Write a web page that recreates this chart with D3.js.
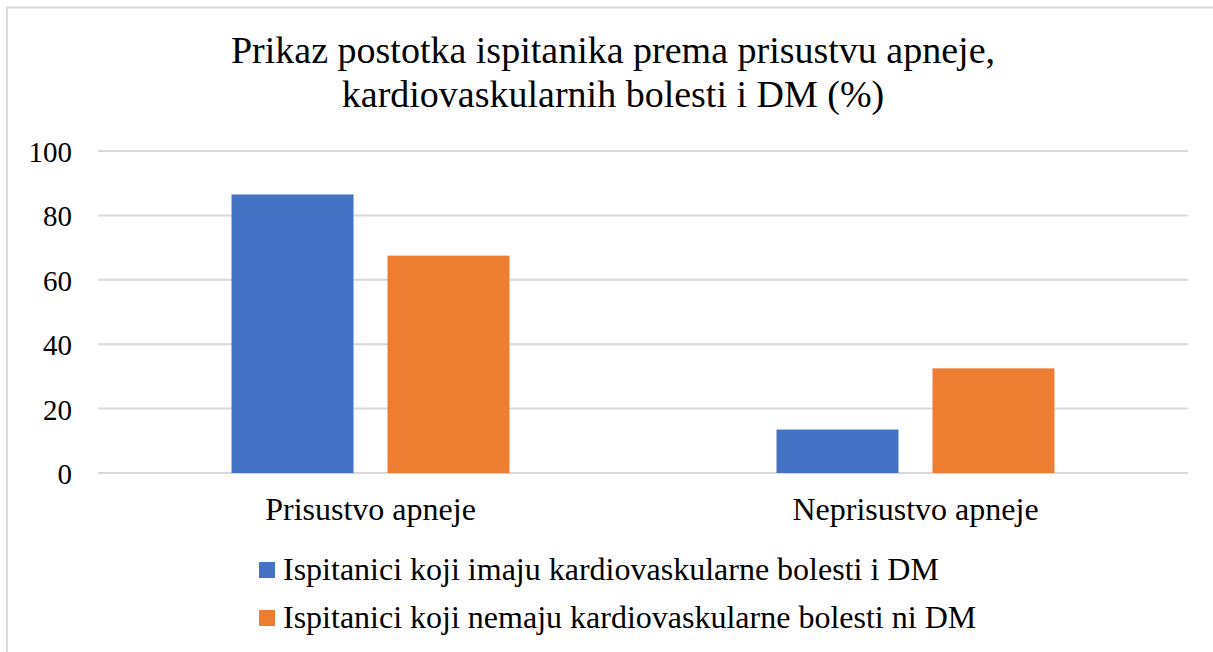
<!DOCTYPE html>
<html>
<head>
<meta charset="utf-8">
<script src="https://cdn.jsdelivr.net/npm/d3@7"></script>
<style>
  body { margin: 0; background: #fff; }
  svg { display: block; }
</style>
</head>
<body>
<div id="chart-area"></div>
<script>
// Podaci
var categories = ["Prisustvo apneje", "Neprisustvo apneje"];
var seriesNames = [
    "Ispitanici koji imaju kardiovaskularne bolesti i DM",
    "Ispitanici koji nemaju kardiovaskularne bolesti ni DM"
];
var withDisease = [86.5, 13.5];
var withoutDisease = [67.5, 32.5];
var seriesValues = [withDisease, withoutDisease];
var yTicks = [0, 20, 40, 60, 80, 100];
var colors = ["#4472C4", "#ED7D31"];

var width = 1213, height = 652;
var serif = "'Liberation Serif', 'Times New Roman', Tinos, 'DejaVu Serif', serif";

var svg = d3.select("#chart-area").append("svg")
    .attr("width", width)
    .attr("height", height)
    .style("font-family", serif);

// Okvir (vidljivi su samo gornji i lijevi rub)
svg.append("path")
    .attr("d", "M7,652 V7.5 H1213")
    .attr("fill", "none")
    .attr("stroke", "#d9d9d9")
    .attr("stroke-width", 2);

// Naslov
var title = svg.append("text")
    .attr("text-anchor", "middle")
    .style("font-family", serif)
    .style("font-size", "38px");
title.append("tspan").attr("x", 613).attr("y", 63)
    .text("Prikaz postotka ispitanika prema prisustvu apneje,");
title.append("tspan").attr("x", 613).attr("y", 107)
    .text("kardiovaskularnih bolesti i DM (%)");

// Skale
var y = d3.scaleLinear().domain([0, 100]).range([473, 151]);
var x0 = d3.scaleBand().domain(categories).range([98, 1188]).padding(0);
var x1 = d3.scaleBand().domain(d3.range(seriesValues.length))
    .range([0, x0.bandwidth()])
    .paddingInner(0.218)
    .paddingOuter(0.856);

// Mreža
svg.append("g")
    .selectAll("line")
    .data(yTicks)
    .enter()
    .append("line")
        .attr("x1", 98).attr("x2", 1188)
        .attr("y1", d => y(d)).attr("y2", d => y(d))
        .attr("stroke", "#d9d9d9")
        .attr("stroke-width", 2);

// Y os
var yAxis = svg.append("g")
    .attr("transform", "translate(72,0)")
    .call(d3.axisLeft(y).tickValues(yTicks).tickSize(0).tickPadding(0));
yAxis.attr("font-family", null).attr("font-size", null);
yAxis.select(".domain").remove();
yAxis.selectAll("text")
    .style("font-family", serif)
    .style("font-size", "29px")
    .attr("fill", "#000")
    .attr("dy", "0.36em");

// Stupci
var groups = svg.append("g")
    .selectAll("g")
    .data(categories)
    .enter()
    .append("g")
        .attr("transform", d => "translate(" + x0(d) + ",0)");

groups.selectAll("rect")
    .data((d, i) => seriesValues.map((s, j) => ({ s: j, v: s[i] })))
    .enter()
    .append("rect")
        .attr("x", d => x1(d.s))
        .attr("y", d => y(d.v))
        .attr("width", x1.bandwidth())
        .attr("height", d => y(0) - y(d.v))
        .attr("fill", d => colors[d.s]);

// X os
var xAxis = svg.append("g")
    .attr("transform", "translate(0,473)")
    .call(d3.axisBottom(x0).tickSize(0).tickPadding(0));
xAxis.attr("font-family", null).attr("font-size", null);
xAxis.select(".domain").remove();
xAxis.selectAll("text")
    .style("font-family", serif)
    .style("font-size", "32px")
    .attr("fill", "#000")
    .attr("dy", 47);

// Legenda
var legend = svg.append("g")
    .selectAll("g")
    .data(seriesNames)
    .enter()
    .append("g")
        .attr("transform", (d, i) => "translate(259," + (580 + i * 48) + ")");

legend.append("rect")
    .attr("x", 0).attr("y", -18)
    .attr("width", 16).attr("height", 16)
    .attr("fill", (d, i) => colors[i]);

legend.append("text")
    .attr("x", 24).attr("y", 0)
    .style("font-family", serif)
    .style("font-size", "32px")
    .text(d => d);
</script>
</body>
</html>
